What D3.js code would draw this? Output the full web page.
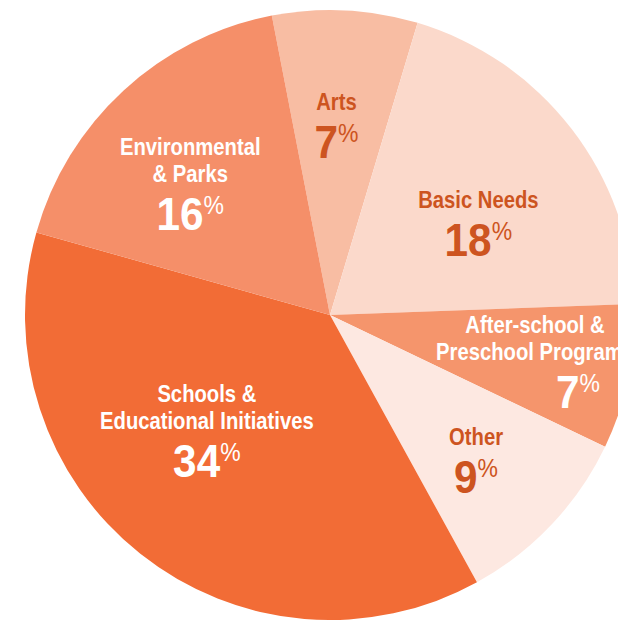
<!DOCTYPE html>
<html>
<head>
    <script src="https://d3js.org/d3.v7.min.js"></script>
    <style>
        body { margin: 0; background: #fff; }
        .lbl { font-family: "Liberation Sans", Arial, sans-serif; font-weight: bold; }
    </style>
</head>
<body>
    <div id="chart"></div>
    <script>
        // Data
        var categories = ["Arts", "Basic Needs", "After-school & Preschool Programs", "Other", "Schools & Educational Initiatives", "Environmental & Parks"];
        var percents = [7, 18, 7, 9, 34, 16];
        var nameLines = [
            ["Arts"],
            ["Basic Needs"],
            ["After-school &", "Preschool Programs"],
            ["Other"],
            ["Schools &", "Educational Initiatives"],
            ["Environmental", "& Parks"]
        ];

        var fills = ["#F8BDA3", "#FBD9CB", "#F5956C", "#FDE8E1", "#F26C36", "#F58F69"];
        var textColors = ["#CD5420", "#CD5420", "#FFFFFF", "#CD5420", "#FFFFFF", "#FFFFFF"];

        // label nudges from centroid (number baseline), plus extra shift of the number
        var nudge = {
            "Arts": [-3, 33, 0],
            "Basic Needs": [-2, 57, 0],
            "After-school & Preschool Programs": [19, 54, 43],
            "Other": [8, 47, 0],
            "Schools & Educational Initiatives": [-5, 13, 0],
            "Environmental & Parks": [-11, 55, 0]
        };

        var width = 618, height = 620;
        var cx = 330, cy = 315, radius = 305;
        var nameSqueeze = 0.88, numSqueeze = 0.92; // condensed look

        var svg = d3.select("#chart").append("svg")
            .attr("width", width)
            .attr("height", height);

        var g = svg.append("g")
            .attr("transform", "translate(" + cx + "," + cy + ")");

        var data = categories.map(function (c, i) {
            return { name: c, value: percents[i], lines: nameLines[i], fill: fills[i], color: textColors[i] };
        });

        var start = -11 * Math.PI / 180;
        var pie = d3.pie()
            .sort(null)
            .value(function (d) { return d.value; })
            .startAngle(start)
            .endAngle(start + 2 * Math.PI);

        var arc = d3.arc().innerRadius(0).outerRadius(radius);
        var labelArc = d3.arc().innerRadius(190).outerRadius(190);

        var arcs = pie(data);

        g.selectAll("path.slice")
            .data(arcs)
            .enter().append("path")
            .attr("class", "slice")
            .attr("d", arc)
            .attr("fill", function (d) { return d.data.fill; });

        var labels = g.selectAll("g.label")
            .data(arcs)
            .enter().append("g")
            .attr("class", "label lbl")
            .attr("transform", function (d) {
                var c = labelArc.centroid(d);
                var n = nudge[d.data.name];
                return "translate(" + (c[0] + n[0]) + "," + (c[1] + n[1]) + ")";
            });

        labels.each(function (d) {
            var sel = d3.select(this);
            var lines = d.data.lines;
            lines.forEach(function (line, i) {
                sel.append("text")
                    .attr("text-anchor", "middle")
                    .attr("transform", "translate(0," + (-48 - (lines.length - 1 - i) * 27) + ") scale(" + nameSqueeze + ",1)")
                    .attr("font-size", 23)
                    .attr("fill", d.data.color)
                    .text(line);
            });
            var num = sel.append("text")
                .attr("text-anchor", "middle")
                .attr("transform", "translate(" + nudge[d.data.name][2] + ",0) scale(" + numSqueeze + ",1)")
                .attr("font-size", 46)
                .attr("fill", d.data.color);
            num.append("tspan").text(d.data.value);
            num.append("tspan")
                .attr("font-size", 25)
                .attr("font-weight", "normal")
                .attr("dy", -16)
                .text("%");
        });
    </script>
</body>
</html>
